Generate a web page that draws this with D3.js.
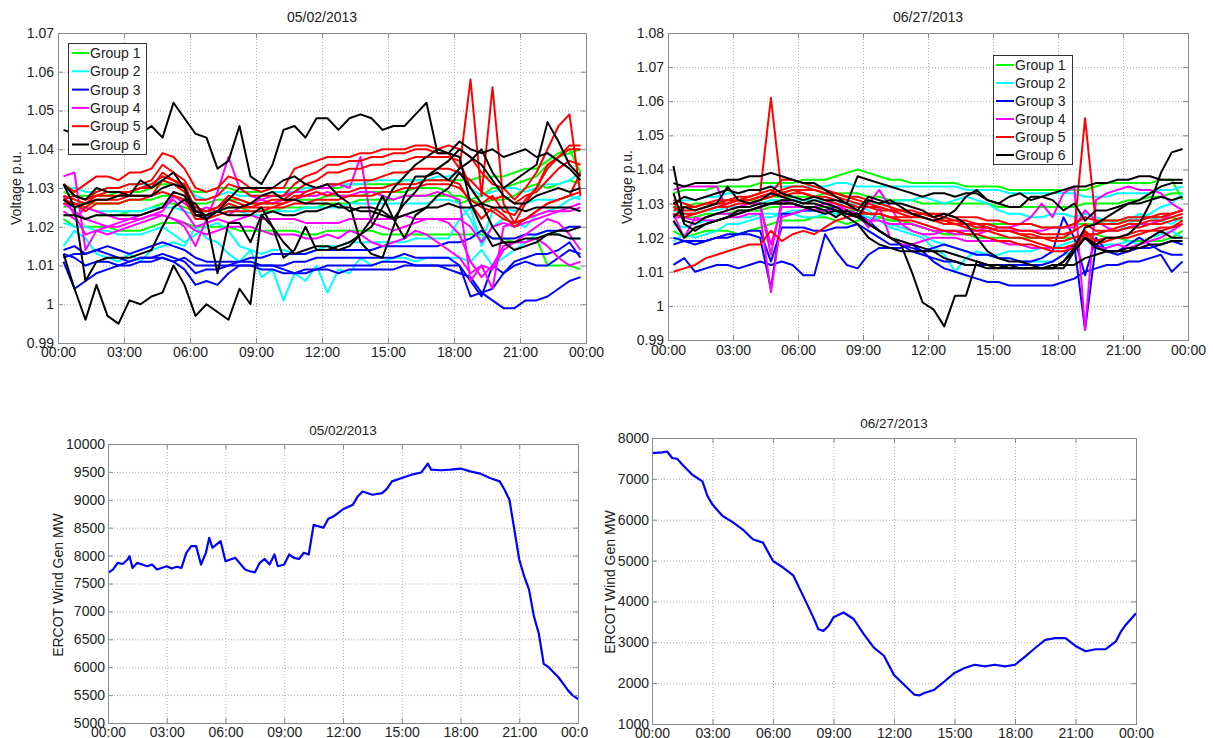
<!DOCTYPE html>
<html><head><meta charset="utf-8">
<script src="https://cdn.jsdelivr.net/npm/d3@7"></script>
<style>
body{margin:0;background:#fff}
svg{display:block}
text{font-family:Arial,"Liberation Sans",sans-serif;fill:#222}
</style>
</head><body>
<svg id="c" width="1213" height="738"></svg>
<script>
// ---------------- DATA ----------------
const hourTicks = [0,3,6,9,12,15,18,21,24];
const hourLabels = ["00:00","03:00","06:00","09:00","12:00","15:00","18:00","21:00","00:00"];
const groupNames = ["Group 1","Group 2","Group 3","Group 4","Group 5","Group 6"];
const groupColors = ["#00ff00","#00ffff","#0000ff","#ff00ff","#ff0000","#000000"];

const voltTimes = [0.25,0.75,1.25,1.75,2.25,2.75,3.25,3.75,4.25,4.75,5.25,5.75,
 6.25,6.75,7.25,7.75,8.25,8.75,9.25,9.75,10.25,10.75,11.25,11.75,
 12.25,12.75,13.25,13.75,14.25,14.75,15.25,15.75,16.25,16.75,17.25,17.75,
 18.25,18.75,19.25,19.75,20.25,20.75,21.25,21.75,22.25,22.75,23.25,23.75];

const mayVoltTicks = [0.99,1,1.01,1.02,1.03,1.04,1.05,1.06,1.07];
const junVoltTicks = [0.99,1,1.01,1.02,1.03,1.04,1.05,1.06,1.07,1.08];
const mayWindTicks = [5000,5500,6000,6500,7000,7500,8000,8500,9000,9500,10000];
const junWindTicks = [1000,2000,3000,4000,5000,6000,7000,8000];

// 05/02/2013 voltages, per group
const mayG1 = [
 [1.029,1.028,1.028,1.028,1.028,1.029,1.029,1.029,1.030,1.031,1.031,1.030, 1.029,1.029,1.030,1.030,1.029,1.029,1.029,1.030,1.030,1.030,1.030,1.030, 1.030,1.030,1.031,1.031,1.031,1.031,1.031,1.032,1.032,1.032,1.032,1.032, 1.032,1.032,1.033,1.033,1.033,1.034,1.035,1.035,1.037,1.039,1.040,1.034],
 [1.023,1.023,1.022,1.023,1.023,1.023,1.024,1.024,1.025,1.026,1.026,1.025, 1.024,1.024,1.024,1.025,1.025,1.024,1.024,1.024,1.025,1.025,1.025,1.025, 1.026,1.026,1.026,1.027,1.027,1.027,1.027,1.028,1.028,1.028,1.028,1.028, 1.028,1.027,1.026,1.027,1.027,1.028,1.030,1.031,1.030,1.031,1.032,1.031],
 [1.022,1.020,1.020,1.020,1.020,1.019,1.019,1.019,1.020,1.021,1.021,1.021, 1.020,1.020,1.020,1.020,1.019,1.019,1.019,1.019,1.019,1.019,1.018,1.018, 1.019,1.019,1.019,1.019,1.019,1.018,1.018,1.018,1.018,1.018,1.018,1.018, 1.018,1.018,1.018,1.017,1.017,1.016,1.016,1.017,1.010,1.010,1.010,1.009],
 [1.025,1.026,1.026,1.026,1.026,1.026,1.027,1.027,1.027,1.028,1.028,1.027, 1.026,1.026,1.027,1.027,1.027,1.026,1.026,1.026,1.027,1.027,1.027,1.027, 1.028,1.028,1.028,1.028,1.029,1.029,1.029,1.029,1.030,1.030,1.030,1.029, 1.026,1.027,1.028,1.030,1.030,1.031,1.032,1.033,1.036,1.038,1.039,1.040]
];
const mayG2 = [
 [1.030,1.030,1.029,1.029,1.030,1.030,1.031,1.031,1.031,1.032,1.031,1.031, 1.028,1.027,1.028,1.029,1.028,1.028,1.028,1.029,1.029,1.029,1.030,1.030, 1.031,1.031,1.031,1.031,1.032,1.032,1.032,1.032,1.032,1.032,1.033,1.033, 1.034,1.030,1.028,1.029,1.030,1.030,1.029,1.030,1.031,1.031,1.032,1.034],
 [1.026,1.025,1.025,1.024,1.024,1.024,1.024,1.024,1.025,1.025,1.025,1.024, 1.023,1.023,1.023,1.024,1.024,1.023,1.023,1.024,1.024,1.024,1.025,1.025, 1.025,1.025,1.026,1.026,1.026,1.026,1.026,1.026,1.026,1.026,1.027,1.027, 1.026,1.022,1.016,1.024,1.025,1.024,1.026,1.027,1.027,1.027,1.028,1.027],
 [1.015,1.019,1.017,1.013,1.012,1.011,1.013,1.011,1.014,1.015,1.016,1.015, 1.020,1.017,1.016,1.013,1.011,1.014,1.007,1.009,1.001,1.008,1.006,1.010, 1.003,1.009,1.008,1.012,1.010,1.011,1.012,1.012,1.011,1.012,1.012,1.012, 1.012,1.011,1.014,1.010,1.012,1.014,1.016,1.018,1.019,1.018,1.017,1.017],
 [1.021,1.020,1.020,1.019,1.019,1.018,1.018,1.018,1.019,1.020,1.018,1.016, 1.018,1.020,1.021,1.019,1.015,1.014,1.013,1.014,1.014,1.013,1.013,1.014, 1.015,1.015,1.016,1.016,1.016,1.016,1.016,1.016,1.017,1.017,1.017,1.017, 1.022,1.025,1.015,1.020,1.022,1.021,1.020,1.023,1.024,1.025,1.027,1.028]
];
const mayG3 = [
 [1.014,1.015,1.013,1.014,1.015,1.014,1.013,1.014,1.015,1.016,1.015,1.014, 1.012,1.011,1.011,1.011,1.011,1.012,1.012,1.013,1.013,1.013,1.013,1.014, 1.014,1.014,1.014,1.014,1.014,1.015,1.015,1.015,1.015,1.015,1.015,1.016, 1.016,1.017,1.019,1.017,1.017,1.017,1.018,1.018,1.019,1.019,1.020,1.020],
 [1.012,1.013,1.013,1.014,1.013,1.012,1.011,1.012,1.012,1.012,1.011,1.012, 1.010,1.010,1.010,1.010,1.011,1.011,1.010,1.010,1.010,1.011,1.011,1.012, 1.012,1.012,1.012,1.012,1.012,1.012,1.012,1.013,1.012,1.012,1.012,1.012, 1.010,1.006,1.002,1.010,1.008,1.011,1.012,1.013,1.013,1.014,1.016,1.012],
 [1.011,1.004,1.006,1.008,1.009,1.010,1.010,1.011,1.011,1.012,1.011,1.009, 1.005,1.006,1.005,1.008,1.010,1.010,1.010,1.010,1.009,1.008,1.008,1.009, 1.009,1.008,1.009,1.009,1.009,1.009,1.009,1.010,1.010,1.010,1.010,1.009, 1.008,1.007,1.003,1.004,1.008,1.010,1.011,1.010,1.010,1.012,1.014,1.013],
 [1.013,1.012,1.010,1.011,1.011,1.010,1.011,1.012,1.012,1.013,1.012,1.011, 1.008,1.009,1.009,1.010,1.010,1.010,1.009,1.009,1.008,1.008,1.009,1.009, 1.010,1.010,1.010,1.010,1.010,1.011,1.011,1.011,1.010,1.010,1.010,1.010, 1.010,1.002,1.003,1.001,0.999,0.999,1.001,1.001,1.002,1.004,1.006,1.007]
];
const mayG4 = [
 [1.033,1.034,1.014,1.019,1.018,1.019,1.020,1.021,1.022,1.023,1.022,1.020, 1.015,1.022,1.029,1.038,1.030,1.028,1.027,1.028,1.028,1.029,1.029,1.030, 1.030,1.031,1.030,1.038,1.021,1.020,1.019,1.020,1.021,1.022,1.022,1.022, 1.022,1.020,1.016,1.020,1.021,1.020,1.021,1.022,1.023,1.024,1.025,1.026],
 [1.026,1.024,1.022,1.021,1.020,1.020,1.021,1.022,1.023,1.024,1.028,1.026, 1.024,1.025,1.024,1.023,1.025,1.026,1.027,1.026,1.027,1.027,1.028,1.028, 1.029,1.028,1.028,1.029,1.029,1.028,1.027,1.028,1.028,1.028,1.029,1.028, 1.027,1.006,1.010,1.004,1.020,1.021,1.022,1.023,1.024,1.024,1.024,1.025],
 [1.024,1.022,1.025,1.024,1.023,1.022,1.022,1.023,1.024,1.025,1.027,1.024, 1.020,1.021,1.022,1.021,1.022,1.023,1.022,1.022,1.022,1.022,1.021,1.021, 1.021,1.021,1.022,1.022,1.022,1.022,1.022,1.023,1.022,1.022,1.022,1.021, 1.018,1.011,1.007,1.010,1.015,1.016,1.016,1.017,1.015,1.012,1.010,1.011],
 [1.028,1.023,1.018,1.019,1.020,1.021,1.022,1.022,1.023,1.023,1.022,1.021, 1.019,1.018,1.019,1.020,1.020,1.020,1.019,1.018,1.018,1.018,1.017,1.017, 1.018,1.017,1.019,1.018,1.016,1.015,1.016,1.017,1.019,1.018,1.016,1.014, 1.012,1.008,1.010,1.009,1.014,1.016,1.018,1.020,1.022,1.021,1.018,1.014]
];
const mayG5 = [
 [1.031,1.029,1.031,1.033,1.033,1.032,1.034,1.034,1.035,1.039,1.038,1.035, 1.030,1.029,1.030,1.033,1.032,1.030,1.029,1.030,1.030,1.035,1.036,1.037, 1.038,1.038,1.038,1.039,1.039,1.040,1.040,1.040,1.041,1.041,1.040,1.041, 1.040,1.038,1.034,1.031,1.030,1.027,1.030,1.034,1.040,1.046,1.049,1.028],
 [1.027,1.028,1.027,1.029,1.030,1.030,1.031,1.031,1.032,1.036,1.034,1.032, 1.027,1.027,1.028,1.031,1.030,1.028,1.028,1.028,1.028,1.031,1.033,1.034, 1.036,1.036,1.037,1.037,1.038,1.038,1.039,1.039,1.040,1.040,1.039,1.039, 1.035,1.058,1.028,1.056,1.026,1.021,1.026,1.030,1.036,1.038,1.040,1.040],
 [1.028,1.027,1.026,1.028,1.028,1.028,1.029,1.030,1.030,1.034,1.032,1.030, 1.025,1.024,1.025,1.028,1.027,1.026,1.026,1.027,1.027,1.029,1.031,1.032, 1.034,1.034,1.035,1.035,1.036,1.036,1.037,1.037,1.038,1.038,1.038,1.038, 1.037,1.030,1.026,1.028,1.024,1.023,1.027,1.030,1.035,1.038,1.041,1.041],
 [1.026,1.026,1.025,1.027,1.027,1.027,1.028,1.028,1.028,1.032,1.031,1.029, 1.023,1.023,1.024,1.026,1.025,1.025,1.025,1.025,1.026,1.027,1.029,1.030, 1.031,1.031,1.032,1.032,1.032,1.033,1.034,1.034,1.035,1.035,1.035,1.035, 1.034,1.032,1.029,1.027,1.028,1.026,1.028,1.029,1.032,1.035,1.037,1.036],
 [1.031,1.028,1.027,1.028,1.029,1.029,1.029,1.030,1.031,1.033,1.032,1.031, 1.024,1.024,1.025,1.027,1.026,1.025,1.026,1.026,1.026,1.028,1.028,1.029, 1.028,1.029,1.029,1.030,1.030,1.030,1.031,1.031,1.031,1.032,1.032,1.032, 1.031,1.026,1.022,1.025,1.023,1.020,1.022,1.024,1.026,1.027,1.028,1.029],
 [1.027,1.026,1.024,1.026,1.026,1.026,1.027,1.027,1.028,1.029,1.028,1.027, 1.022,1.022,1.023,1.024,1.024,1.024,1.024,1.025,1.025,1.026,1.026,1.027, 1.027,1.027,1.028,1.028,1.028,1.029,1.029,1.030,1.030,1.031,1.031,1.031, 1.030,1.027,1.025,1.024,1.022,1.021,1.022,1.024,1.026,1.027,1.028,1.034]
];
const mayG6 = [
 [1.045,1.044,1.042,1.040,1.039,1.041,1.042,1.044,1.046,1.043,1.052,1.048, 1.044,1.043,1.035,1.037,1.046,1.033,1.031,1.036,1.045,1.046,1.043,1.048, 1.048,1.045,1.048,1.049,1.048,1.045,1.046,1.046,1.049,1.052,1.039,1.039, 1.042,1.040,1.039,1.040,1.038,1.039,1.040,1.038,1.039,1.037,1.035,1.032],
 [1.013,1.004,0.996,1.005,0.997,0.995,1.001,1.000,1.002,1.003,1.010,1.005, 0.997,1.000,0.998,0.996,1.004,1.000,1.023,1.020,1.012,1.014,1.020,1.014, 1.014,1.015,1.016,1.018,1.020,1.025,1.030,1.033,1.036,1.038,1.040,1.039, 1.038,1.026,1.020,1.015,1.016,1.016,1.017,1.017,1.018,1.018,1.017,1.017],
 [1.031,1.025,1.006,1.011,1.012,1.012,1.012,1.013,1.014,1.020,1.025,1.027, 1.026,1.022,1.008,1.021,1.021,1.016,1.023,1.024,1.023,1.023,1.024,1.024, 1.025,1.026,1.024,1.025,1.025,1.024,1.022,1.026,1.029,1.033,1.035,1.037, 1.040,1.038,1.036,1.032,1.028,1.026,1.026,1.028,1.029,1.030,1.029,1.030],
 [1.027,1.025,1.026,1.027,1.027,1.028,1.028,1.028,1.028,1.030,1.031,1.030, 1.023,1.023,1.024,1.025,1.025,1.026,1.028,1.029,1.027,1.027,1.026,1.026, 1.026,1.025,1.025,1.024,1.024,1.023,1.022,1.023,1.024,1.025,1.025,1.026, 1.025,1.025,1.026,1.025,1.025,1.025,1.024,1.025,1.025,1.025,1.025,1.024],
 [1.031,1.028,1.027,1.030,1.029,1.029,1.028,1.032,1.030,1.032,1.034,1.030, 1.024,1.023,1.024,1.027,1.030,1.030,1.030,1.030,1.032,1.033,1.031,1.030, 1.031,1.028,1.026,1.016,1.013,1.012,1.020,1.028,1.033,1.033,1.034,1.032, 1.035,1.037,1.040,1.034,1.030,1.032,1.034,1.036,1.047,1.042,1.036,1.033],
 [1.023,1.023,1.022,1.023,1.023,1.023,1.023,1.023,1.024,1.025,1.029,1.028, 1.023,1.022,1.024,1.023,1.023,1.023,1.025,1.020,1.016,1.013,1.014,1.015, 1.015,1.014,1.015,1.018,1.022,1.028,1.022,1.017,1.023,1.025,1.028,1.030, 1.034,1.030,1.026,1.020,1.016,1.014,1.015,1.016,1.018,1.019,1.019,1.020]
];

// 06/27/2013 voltages, per group
const junG1 = [
 [1.033,1.034,1.034,1.034,1.035,1.035,1.035,1.035,1.036,1.036,1.036,1.036, 1.037,1.037,1.037,1.038,1.039,1.040,1.039,1.038,1.037,1.037,1.036,1.036, 1.036,1.036,1.036,1.035,1.035,1.035,1.035,1.034,1.034,1.034,1.034,1.034, 1.034,1.034,1.034,1.035,1.036,1.036,1.036,1.036,1.036,1.037,1.037,1.031],
 [1.029,1.029,1.030,1.030,1.030,1.031,1.031,1.031,1.031,1.032,1.032,1.032, 1.032,1.032,1.033,1.033,1.033,1.033,1.032,1.032,1.031,1.031,1.031,1.030, 1.030,1.030,1.030,1.030,1.030,1.030,1.029,1.029,1.029,1.029,1.029,1.029, 1.029,1.029,1.030,1.030,1.030,1.030,1.031,1.031,1.032,1.032,1.033,1.033],
 [1.022,1.020,1.021,1.022,1.022,1.022,1.021,1.022,1.023,1.024,1.025,1.025, 1.025,1.026,1.026,1.025,1.024,1.025,1.025,1.026,1.025,1.025,1.024,1.023, 1.022,1.021,1.021,1.022,1.023,1.024,1.024,1.024,1.024,1.024,1.023,1.023, 1.023,1.024,1.024,1.024,1.025,1.025,1.025,1.025,1.026,1.026,1.026,1.025],
 [1.027,1.026,1.026,1.027,1.027,1.027,1.028,1.028,1.028,1.029,1.029,1.029, 1.029,1.029,1.029,1.029,1.028,1.028,1.027,1.026,1.025,1.025,1.024,1.023, 1.022,1.021,1.021,1.021,1.020,1.020,1.020,1.020,1.020,1.020,1.020,1.020, 1.020,1.020,1.021,1.021,1.020,1.020,1.019,1.019,1.019,1.019,1.020,1.022]
];
const junG2 = [
 [1.030,1.031,1.031,1.032,1.032,1.033,1.033,1.034,1.034,1.035,1.035,1.035, 1.035,1.035,1.035,1.036,1.036,1.035,1.035,1.035,1.035,1.035,1.035,1.035, 1.035,1.035,1.035,1.034,1.034,1.034,1.034,1.033,1.033,1.033,1.033,1.033, 1.033,1.033,1.032,1.032,1.032,1.033,1.033,1.033,1.033,1.034,1.034,1.035],
 [1.024,1.023,1.024,1.025,1.025,1.026,1.026,1.026,1.027,1.027,1.027,1.028, 1.028,1.028,1.028,1.027,1.027,1.027,1.026,1.025,1.024,1.023,1.022,1.021, 1.019,1.018,1.017,1.016,1.015,1.015,1.014,1.014,1.013,1.013,1.013,1.013, 1.015,1.016,1.020,1.017,1.018,1.018,1.019,1.018,1.020,1.021,1.022,1.020],
 [1.019,1.021,1.020,1.021,1.022,1.024,1.024,1.025,1.026,1.026,1.027,1.027, 1.026,1.026,1.027,1.027,1.029,1.030,1.028,1.025,1.023,1.022,1.021,1.020, 1.017,1.015,1.010,1.014,1.016,1.015,1.015,1.016,1.016,1.016,1.017,1.017, 1.018,1.019,1.020,1.021,1.022,1.022,1.024,1.026,1.027,1.029,1.030,1.033],
 [1.028,1.027,1.027,1.028,1.028,1.029,1.029,1.030,1.030,1.031,1.031,1.031, 1.031,1.031,1.031,1.030,1.030,1.030,1.030,1.030,1.030,1.031,1.031,1.032, 1.031,1.030,1.031,1.032,1.031,1.030,1.028,1.027,1.027,1.026,1.026,1.027, 1.027,1.026,1.027,1.026,1.025,1.024,1.025,1.027,1.026,1.025,1.024,1.026]
];
const junG3 = [
 [1.012,1.014,1.010,1.011,1.012,1.012,1.011,1.012,1.013,1.012,1.013,1.012, 1.009,1.009,1.021,1.016,1.012,1.011,1.015,1.017,1.017,1.017,1.018,1.016, 1.013,1.011,1.010,1.009,1.008,1.007,1.007,1.006,1.006,1.006,1.006,1.006, 1.007,1.008,1.010,1.011,1.012,1.012,1.013,1.013,1.014,1.015,1.010,1.013],
 [1.018,1.019,1.019,1.019,1.020,1.020,1.021,1.021,1.020,1.005,1.027,1.027, 1.028,1.028,1.028,1.029,1.028,1.027,1.025,1.022,1.020,1.018,1.016,1.015, 1.014,1.013,1.013,1.012,1.012,1.012,1.012,1.012,1.012,1.012,1.012,1.013, 1.015,1.018,0.993,1.018,1.016,1.015,1.016,1.017,1.017,1.018,1.019,1.018],
 [1.020,1.019,1.018,1.019,1.020,1.021,1.021,1.022,1.022,1.013,1.023,1.023, 1.023,1.022,1.022,1.023,1.023,1.024,1.022,1.020,1.018,1.018,1.017,1.016, 1.017,1.018,1.017,1.016,1.015,1.015,1.014,1.014,1.013,1.013,1.014,1.016, 1.026,1.020,1.009,1.020,1.016,1.016,1.018,1.020,1.018,1.016,1.015,1.015]
];
const junG4 = [
 [1.034,1.035,1.035,1.035,1.035,1.028,1.029,1.030,1.030,1.015,1.031,1.030, 1.029,1.029,1.030,1.030,1.028,1.026,1.030,1.034,1.029,1.024,1.022,1.021, 1.021,1.022,1.021,1.021,1.021,1.022,1.023,1.023,1.024,1.026,1.030,1.026, 1.033,1.035,0.993,1.031,1.033,1.034,1.035,1.034,1.034,1.033,1.030,1.028],
 [1.027,1.020,1.026,1.025,1.025,1.026,1.026,1.027,1.027,1.004,1.026,1.027, 1.028,1.029,1.030,1.029,1.028,1.027,1.023,1.029,1.020,1.018,1.018,1.019, 1.020,1.020,1.020,1.019,1.019,1.019,1.019,1.018,1.018,1.017,1.017,1.017, 1.017,1.017,1.020,1.017,1.017,1.018,1.017,1.018,1.019,1.020,1.022,1.024],
 [1.026,1.026,1.025,1.026,1.027,1.027,1.027,1.028,1.029,1.018,1.029,1.029, 1.029,1.028,1.028,1.028,1.027,1.026,1.025,1.025,1.024,1.024,1.024,1.023, 1.022,1.022,1.022,1.022,1.022,1.023,1.022,1.022,1.022,1.022,1.022,1.023, 1.023,1.023,1.028,1.025,1.023,1.022,1.023,1.024,1.024,1.025,1.027,1.028]
];
const junG5 = [
 [1.028,1.029,1.029,1.030,1.031,1.031,1.032,1.032,1.033,1.061,1.033,1.034, 1.034,1.034,1.033,1.033,1.032,1.031,1.030,1.029,1.028,1.028,1.027,1.026, 1.025,1.025,1.024,1.024,1.023,1.023,1.022,1.022,1.021,1.020,1.020,1.019, 1.019,1.020,1.021,1.021,1.022,1.022,1.023,1.023,1.024,1.024,1.025,1.026],
 [1.029,1.027,1.027,1.028,1.029,1.030,1.031,1.031,1.032,1.033,1.037,1.037, 1.036,1.035,1.034,1.033,1.032,1.032,1.031,1.030,1.029,1.028,1.028,1.027, 1.027,1.026,1.025,1.024,1.024,1.023,1.022,1.022,1.021,1.021,1.020,1.020, 1.020,1.022,1.055,1.024,1.024,1.024,1.025,1.025,1.026,1.026,1.027,1.028],
 [1.031,1.030,1.029,1.030,1.030,1.031,1.031,1.032,1.033,1.034,1.032,1.033, 1.033,1.032,1.032,1.031,1.030,1.029,1.029,1.028,1.028,1.027,1.026,1.026, 1.025,1.024,1.024,1.023,1.022,1.022,1.021,1.020,1.020,1.019,1.018,1.017, 1.017,1.018,1.022,1.019,1.020,1.020,1.021,1.022,1.022,1.023,1.023,1.024],
 [1.010,1.011,1.012,1.014,1.015,1.016,1.017,1.018,1.018,1.022,1.019,1.021, 1.022,1.021,1.023,1.025,1.026,1.027,1.027,1.027,1.026,1.026,1.026,1.027, 1.027,1.027,1.026,1.026,1.026,1.025,1.025,1.024,1.024,1.024,1.023,1.023, 1.023,1.024,1.026,1.025,1.025,1.025,1.026,1.026,1.026,1.027,1.027,1.028],
 [1.027,1.026,1.027,1.028,1.029,1.029,1.030,1.030,1.031,1.032,1.033,1.034, 1.033,1.032,1.031,1.030,1.029,1.028,1.027,1.027,1.026,1.025,1.025,1.024, 1.023,1.022,1.022,1.021,1.021,1.020,1.019,1.019,1.018,1.018,1.017,1.016, 1.016,1.017,1.021,1.018,1.019,1.020,1.020,1.021,1.022,1.022,1.023,1.025],
 [1.030,1.028,1.028,1.029,1.030,1.030,1.031,1.031,1.032,1.033,1.034,1.035, 1.035,1.034,1.033,1.032,1.031,1.030,1.029,1.029,1.028,1.028,1.027,1.027, 1.026,1.025,1.025,1.025,1.024,1.024,1.023,1.023,1.022,1.022,1.021,1.021, 1.021,1.022,1.024,1.022,1.022,1.023,1.024,1.024,1.025,1.025,1.026,1.027]
];
const junG6 = [
 [1.041,1.025,1.024,1.026,1.027,1.028,1.029,1.029,1.030,1.030,1.030,1.030, 1.029,1.029,1.028,1.026,1.028,1.026,1.024,1.022,1.020,1.018,1.010,1.001, 0.999,0.994,1.003,1.003,1.013,1.012,1.011,1.012,1.011,1.011,1.011,1.012, 1.012,1.012,1.014,1.015,1.016,1.016,1.016,1.018,1.020,1.022,1.020,1.020],
 [1.036,1.035,1.036,1.036,1.036,1.037,1.037,1.038,1.038,1.039,1.038,1.037, 1.036,1.036,1.034,1.032,1.030,1.038,1.037,1.036,1.035,1.034,1.033,1.032, 1.033,1.033,1.032,1.033,1.033,1.031,1.030,1.032,1.033,1.031,1.032,1.033, 1.034,1.035,1.035,1.036,1.036,1.037,1.037,1.038,1.038,1.037,1.037,1.037],
 [1.033,1.024,1.022,1.024,1.025,1.026,1.027,1.028,1.029,1.030,1.031,1.031, 1.030,1.030,1.029,1.028,1.027,1.027,1.024,1.022,1.020,1.019,1.018,1.017, 1.016,1.014,1.013,1.012,1.012,1.011,1.011,1.011,1.011,1.011,1.011,1.011, 1.013,1.016,1.020,1.018,1.020,1.020,1.021,1.024,1.030,1.039,1.045,1.046],
 [1.030,1.032,1.031,1.032,1.033,1.034,1.033,1.034,1.034,1.035,1.033,1.032, 1.031,1.032,1.031,1.031,1.030,1.028,1.032,1.031,1.030,1.030,1.029,1.028, 1.026,1.027,1.026,1.024,1.020,1.016,1.014,1.013,1.013,1.012,1.011,1.011, 1.013,1.017,1.023,1.024,1.026,1.028,1.030,1.031,1.033,1.035,1.036,1.036],
 [1.026,1.029,1.028,1.029,1.030,1.035,1.031,1.030,1.031,1.033,1.032,1.031, 1.030,1.031,1.030,1.029,1.027,1.026,1.031,1.030,1.031,1.029,1.027,1.026, 1.025,1.026,1.028,1.032,1.034,1.031,1.030,1.029,1.029,1.032,1.032,1.031, 1.028,1.030,1.025,1.028,1.028,1.029,1.030,1.030,1.031,1.032,1.031,1.032],
 [1.025,1.020,1.023,1.024,1.025,1.026,1.028,1.028,1.029,1.030,1.030,1.030, 1.029,1.028,1.027,1.028,1.026,1.024,1.020,1.018,1.017,1.016,1.016,1.016, 1.016,1.016,1.015,1.014,1.013,1.012,1.012,1.011,1.011,1.011,1.011,1.011, 1.011,1.016,1.020,1.017,1.016,1.016,1.017,1.017,1.018,1.018,1.019,1.019]
];

// ERCOT wind generation [hour, MW]
const mayWind = [[0,7690],[0.25,7750],[0.5,7870],[0.75,7850],[1.0,7930],[1.1,7990],[1.25,7780],[1.5,7870],[2.0,7810],[2.25,7840],[2.5,7750],[3.0,7810],[3.25,7770],[3.5,7800],[3.75,7780],
 [4.0,8050],[4.25,8170],[4.5,8170],[4.75,7840],[5.0,8050],[5.17,8320],[5.33,8140],[5.75,8260],[6.0,7900],[6.5,7960],[7.0,7750],[7.25,7720],[7.5,7700],[7.75,7870],[8.0,7940],
 [8.25,7840],[8.5,8020],[8.67,7810],[9.0,7840],[9.25,8020],[9.5,7960],[9.75,7940],[10.0,8050],[10.25,8020],[10.5,8550],[11.0,8500],[11.25,8660],[11.5,8700],[12.0,8830],[12.5,8910],
 [12.75,9060],[13.0,9150],[13.5,9090],[14.0,9120],[14.25,9200],[14.5,9330],[15.0,9390],[15.5,9450],[16.0,9490],[16.33,9650],[16.5,9540],[17.0,9530],[17.5,9540],[18.0,9560],[18.5,9510],
 [19.0,9470],[19.5,9390],[20.0,9330],[20.25,9180],[20.5,9000],[21.0,7930],[21.25,7630],[21.5,7390],[21.75,6910],[22.0,6600],[22.25,6060],[22.5,6000],[23.0,5820],[23.25,5700],[23.5,5580],[23.75,5490],[24.0,5430]];
const junWind = [[0,7630],[0.5,7650],[0.75,7670],[1.0,7510],[1.25,7490],[1.5,7350],[2.0,7100],[2.5,6940],[2.75,6580],[3.0,6370],[3.5,6090],[4.0,5940],[4.5,5760],[5.0,5520],[5.5,5440],
 [6.0,4990],[6.5,4830],[7.0,4640],[7.5,4130],[8.0,3610],[8.25,3320],[8.5,3280],[8.75,3400],[9.0,3610],[9.5,3730],[10.0,3570],[10.5,3200],[11.0,2870],[11.5,2670],[12.0,2200],
 [12.5,1960],[13.0,1720],[13.25,1700],[13.5,1760],[14.0,1840],[14.5,2040],[15.0,2250],[15.5,2370],[16.0,2450],[16.5,2410],[17.0,2450],[17.5,2410],[18.0,2450],[18.5,2650],[19.0,2860],
 [19.5,3060],[20.0,3100],[20.5,3100],[21.0,2910],[21.5,2780],[22.0,2830],[22.5,2830],[23.0,3020],[23.25,3260],[23.5,3430],[24.0,3710]];

// ---------------- DRAW ----------------
const svg = d3.select("#c");
const voltFmt = d => d === 1 ? "1" : d.toFixed(2);
const mwFmt = d3.format("d");

function panel(p) {
  const x = d3.scaleLinear().domain([0, 24]).range([p.left, p.right]);
  const y = d3.scaleLinear().domain(p.yDomain).range([p.bottom, p.top]);
  const g = svg.append("g");
  if (p.clipX) {
    const id = "pc" + Math.round(p.left);
    svg.append("clipPath").attr("id", id).append("rect").attr("x", 0).attr("y", 0).attr("width", p.clipX).attr("height", 738);
    g.attr("clip-path", `url(#${id})`);
  }
  const w = p.right - p.left, h = p.bottom - p.top;
  // grid
  const gx = g.append("g").attr("transform", `translate(0,${p.bottom})`)
    .call(d3.axisBottom(x).tickValues(hourTicks).tickSize(-h).tickFormat(""));
  const gy = g.append("g").attr("transform", `translate(${p.left},0)`)
    .call(d3.axisLeft(y).tickValues(p.yTicks).tickSize(-w).tickFormat(""));
  [gx, gy].forEach(a => {
    a.select(".domain").remove();
    a.selectAll("line").attr("stroke", "#b0b0b0").attr("stroke-dasharray", "1,2");
  });
  // data
  const clipId = "dc" + Math.round(p.left);
  svg.append("clipPath").attr("id", clipId).append("rect")
    .attr("x", p.left).attr("y", p.top).attr("width", w).attr("height", h);
  const dg = g.append("g").attr("clip-path", `url(#${clipId})`);
  p.drawData(dg, x, y);
  // box
  g.append("rect").attr("x", p.left + 0.5).attr("y", p.top + 0.5)
    .attr("width", w).attr("height", h).attr("fill", "none").attr("stroke", "#8a8a8a");
  // axes with inward ticks
  const ax = g.append("g").attr("transform", `translate(0,${p.bottom})`)
    .call(d3.axisBottom(x).tickValues(hourTicks).tickFormat((d, i) => hourLabels[i]).tickSize(-5).tickPadding(p.xPad));
  const ay = g.append("g").attr("transform", `translate(${p.left},0)`)
    .call(d3.axisLeft(y).tickValues(p.yTicks).tickFormat(p.yFmt).tickSize(-5).tickPadding(p.yPad));
  const at = g.append("g").attr("transform", `translate(0,${p.top})`)
    .call(d3.axisTop(x).tickValues(hourTicks).tickFormat("").tickSize(-5));
  const ar = g.append("g").attr("transform", `translate(${p.right},0)`)
    .call(d3.axisRight(y).tickValues(p.yTicks).tickFormat("").tickSize(-5));
  [ax, ay, at, ar].forEach(a => {
    a.select(".domain").remove();
    a.selectAll("line").attr("stroke", "#8a8a8a");
    a.selectAll("text").attr("font-size", 14).attr("fill", "#222")
      .attr("font-family", "Arial, 'Liberation Sans', sans-serif");
  });
  // title
  g.append("text").attr("x", (p.left + p.right) / 2).attr("y", p.titleY)
    .attr("text-anchor", "middle").attr("font-size", p.titleSize).text(p.title);
  // y label
  g.append("text").attr("transform", `translate(${p.ylabX},${p.ylabY}) rotate(-90)`)
    .attr("text-anchor", "middle").attr("font-size", 14).text(p.ylabel);
  return {g, x, y};
}

function voltData(groups) {
  return (dg, x, y) => {
    const line = d3.line().x((d, i) => x(voltTimes[i])).y(d => y(d));
    groups.forEach((grp, gi) => {
      grp.forEach(series => {
        dg.append("path").datum(series).attr("d", line)
          .attr("fill", "none").attr("stroke", groupColors[gi])
          .attr("stroke-width", 2).attr("stroke-linejoin", "round");
      });
    });
  };
}
function windData(series) {
  return (dg, x, y) => {
    const line = d3.line().x(d => x(d[0])).y(d => y(d[1]));
    dg.append("path").datum(series).attr("d", line)
      .attr("fill", "none").attr("stroke", "#0000ff").attr("stroke-width", 2.2)
      .attr("stroke-linejoin", "round");
  };
}
function legend(lx, ly, lw, lh, firstY, step, lineX0, lineX1, textX) {
  const lg = svg.append("g");
  lg.append("rect").attr("x", lx + 0.5).attr("y", ly + 0.5).attr("width", lw).attr("height", lh)
    .attr("fill", "#fff").attr("stroke", "#333");
  groupNames.forEach((n, i) => {
    const yy = firstY + i * step;
    lg.append("line").attr("x1", lineX0).attr("x2", lineX1).attr("y1", yy).attr("y2", yy)
      .attr("stroke", groupColors[i]).attr("stroke-width", 2);
    lg.append("text").attr("x", textX).attr("y", yy + 5).attr("font-size", 14).text(n);
  });
}

panel({left: 58, right: 586, top: 33, bottom: 343, yDomain: [0.99, 1.07], yTicks: mayVoltTicks,
  yFmt: voltFmt, xPad: 4, yPad: 4, title: "05/02/2013", titleY: 22, titleSize: 14,
  ylabel: "Voltage p.u.", ylabX: 21, ylabY: 188,
  drawData: voltData([mayG1, mayG2, mayG3, mayG4, mayG5, mayG6])});
legend(68, 43, 78, 111, 53, 18.3, 72, 89, 90);

panel({left: 668, right: 1188, top: 33, bottom: 340, yDomain: [0.99, 1.08], yTicks: junVoltTicks,
  yFmt: voltFmt, xPad: 5, yPad: 4, title: "06/27/2013", titleY: 22, titleSize: 14,
  ylabel: "Voltage p.u.", ylabX: 632, ylabY: 187,
  drawData: voltData([junG1, junG2, junG3, junG4, junG5, junG6])});
legend(993, 55, 79, 109, 65, 18, 996, 1014, 1015);

panel({left: 108, right: 578, top: 444, bottom: 723, yDomain: [5000, 10000], yTicks: mayWindTicks,
  yFmt: mwFmt, xPad: 4, yPad: 3, title: "05/02/2013", titleY: 435, titleSize: 13.5,
  ylabel: "ERCOT Wind Gen MW", ylabX: 63, ylabY: 585, clipX: 588,
  drawData: windData(mayWind)});

panel({left: 652, right: 1136, top: 438, bottom: 724, yDomain: [1000, 8000], yTicks: junWindTicks,
  yFmt: mwFmt, xPad: 4, yPad: 3, title: "06/27/2013", titleY: 428, titleSize: 13.5,
  ylabel: "ERCOT Wind Gen MW", ylabX: 615, ylabY: 582,
  drawData: windData(junWind)});
</script>
</body></html>
